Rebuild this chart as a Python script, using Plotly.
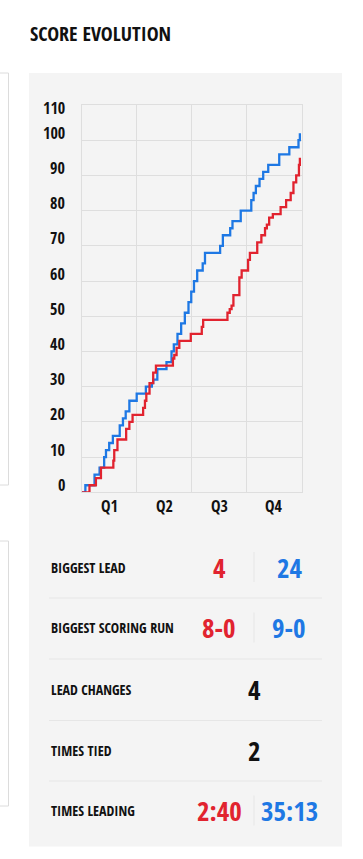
import plotly.graph_objects as go

W, H = 363, 859

# ---------------- data ----------------
blue_t = [0, 0.8, 2.8, 3.9, 4.9, 5.3, 6.0, 6.8, 8.3, 9.0, 9.6, 10.4, 12.0, 14.0, 15.3, 15.6,
          16.5, 18.5, 19.6, 20.1, 20.9, 21.7, 22.5, 23.3, 23.9, 24.5, 25.2, 26.4, 26.9, 30.2,
          30.8, 32.4, 32.9, 34.7, 37.0, 37.5, 38.0, 38.8, 39.6, 40.7, 43.1, 45.3, 47.3, 47.6]
blue_s = [0, 2, 5, 7, 10, 12, 14, 16, 19, 21, 23, 26, 28, 30, 31, 32,
          35, 37, 40, 42, 45, 48, 51, 54, 57, 60, 63, 65, 68, 70,
          73, 75, 77, 80, 83, 85, 87, 89, 91, 93, 96, 98, 100, 102]

red_t = [0, 1.7, 3.1, 4.2, 6.9, 7.1, 7.8, 9.7, 10.4, 11.1, 13.4, 13.8, 14.1, 14.8, 15.6,
         16.2, 19.9, 20.2, 20.7, 21.3, 23.8, 26.2, 26.5, 31.8, 32.3, 32.7, 33.1, 34.4, 34.9,
         36.3, 36.7, 38.3, 39.2, 40.0, 40.4, 40.9, 41.7, 43.4, 44.6, 45.6, 46.2, 46.8, 47.4, 47.6]
red_s = [0, 2, 4, 7, 9, 12, 15, 18, 20, 22, 24, 26, 28, 31, 34,
         36, 38, 39, 41, 43, 45, 47, 49, 51, 52, 53, 56, 61, 63,
         66, 68, 71, 73, 75, 76, 78, 79, 81, 83, 85, 88, 90, 93, 95]

y_tick_values = [0, 10, 20, 30, 40, 50, 60, 70, 80, 90, 100, 110]
quarter_mid = [6, 18, 30, 42]
quarter_labels = ["Q1", "Q2", "Q3", "Q4"]

title_text = "SCORE EVOLUTION"
stat_labels = ["BIGGEST LEAD", "BIGGEST SCORING RUN", "LEAD CHANGES", "TIMES TIED", "TIMES LEADING"]
stat_red = ["4", "8-0", None, None, "2:40"]
stat_blue = ["24", "9-0", None, None, "35:13"]
stat_shared = [None, None, "4", "2", None]

# ---------------- style ----------------
RED = "#e1232f"
BLUE = "#1e78e4"
PANEL = "#f4f4f4"
GRID = "#dedede"
FONT = "Open Sans Condensed, Roboto Condensed, Open Sans, sans-serif"
INK = "#111111"


def px(x):
    return x / W


def py(y):
    return 1 - y / H


PLOT_L, PLOT_R, PLOT_T, PLOT_B = 81.7, 301.7, 105.0, 492.3

fig = go.Figure()
fig.add_trace(go.Scatter(x=blue_t, y=blue_s, mode="lines", line=dict(color=BLUE, width=2.3, shape="hv"),
                         hoverinfo="skip", showlegend=False))
fig.add_trace(go.Scatter(x=red_t, y=red_s, mode="lines", line=dict(color=RED, width=2.3, shape="hv"),
                         hoverinfo="skip", showlegend=False))

shapes = []
# gray panel
shapes.append(dict(type="rect", xref="paper", yref="paper", x0=px(29), x1=px(342), y0=py(846.5), y1=py(73),
                   fillcolor=PANEL, line=dict(width=0), layer="below"))
# partial cards on the left
for (top, bot) in [(73, 485), (541, 806)]:
    shapes.append(dict(type="path", xref="paper", yref="paper",
                       path=f"M {px(-2)} {py(top)} L {px(8.5)} {py(top)} L {px(8.5)} {py(bot)} L {px(-2)} {py(bot)}",
                       line=dict(color="#dcdcdc", width=1), layer="below"))

annotations = []
annotations.append(dict(text=title_text, xref="paper", yref="paper", x=px(28), y=py(33), xanchor="left",
                        yanchor="middle", showarrow=False,
                        font=dict(family=FONT, size=20, color=INK, weight="bold")))

for v in y_tick_values:
    shift = 7.5 if v < 110 else -3.5
    annotations.append(dict(text=str(v), xref="paper", yref="y", x=px(66.5), y=v, yshift=shift,
                            xanchor="right", yanchor="middle", showarrow=False,
                            font=dict(family=FONT, size=16, color=INK, weight="bold")))
for xm, lab in zip(quarter_mid, quarter_labels):
    annotations.append(dict(text=lab, xref="x", yref="paper", x=xm, y=py(506.5), xanchor="center",
                            yanchor="middle", showarrow=False,
                            font=dict(family=FONT, size=16, color=INK, weight="bold")))

row_y = [567, 627.5, 689, 750, 810.5]
sep_y = [598, 659, 720.5, 781]
for yy in sep_y:
    shapes.append(dict(type="line", xref="paper", yref="paper", x0=px(49), x1=px(322), y0=py(yy), y1=py(yy),
                       line=dict(color="#e6e6e6", width=1), layer="below"))

for lab, r, b, s, yy in zip(stat_labels, stat_red, stat_blue, stat_shared, row_y):
    annotations.append(dict(text=lab, xref="paper", yref="paper", x=px(48.5), y=py(yy), xanchor="left",
                            yanchor="middle", showarrow=False,
                            font=dict(family=FONT, size=14, color=INK, weight="bold")))
    if r is not None:
        annotations.append(dict(text=r, xref="paper", yref="paper", x=px(219.5), y=py(yy), xanchor="center",
                                yanchor="middle", showarrow=False,
                                font=dict(family=FONT, size=27, color=RED, weight="bold")))
        annotations.append(dict(text=b, xref="paper", yref="paper", x=px(289), y=py(yy), xanchor="center",
                                yanchor="middle", showarrow=False,
                                font=dict(family=FONT, size=27, color=BLUE, weight="bold")))
        shapes.append(dict(type="line", xref="paper", yref="paper", x0=px(254), x1=px(254),
                           y0=py(yy - 15), y1=py(yy + 15), line=dict(color="#e6e6e6", width=1), layer="below"))
    if s is not None:
        annotations.append(dict(text=s, xref="paper", yref="paper", x=px(254), y=py(yy), xanchor="center",
                                yanchor="middle", showarrow=False,
                                font=dict(family=FONT, size=27, color=INK, weight="bold")))

fig.update_layout(
    width=W, height=H,
    margin=dict(l=0, r=0, t=0, b=0),
    paper_bgcolor="white",
    plot_bgcolor="rgba(0,0,0,0)",
    shapes=shapes,
    annotations=annotations,
    xaxis=dict(domain=[px(PLOT_L), px(PLOT_R)], range=[0, 48], tickvals=[0, 12, 24, 36, 48],
               showticklabels=False, showgrid=True, gridcolor=GRID, gridwidth=1, zeroline=False,
               showline=True, linecolor=GRID, mirror=True, ticks="", fixedrange=True),
    yaxis=dict(domain=[py(PLOT_B), py(PLOT_T)], range=[0, 110], tickvals=y_tick_values,
               showticklabels=False, showgrid=True, gridcolor=GRID, gridwidth=1, zeroline=False,
               showline=True, linecolor=GRID, mirror=True, ticks="", fixedrange=True),
)

fig.write_html("out.html", config={"displayModeBar": False},
               post_script="document.body.style.margin='0';")
